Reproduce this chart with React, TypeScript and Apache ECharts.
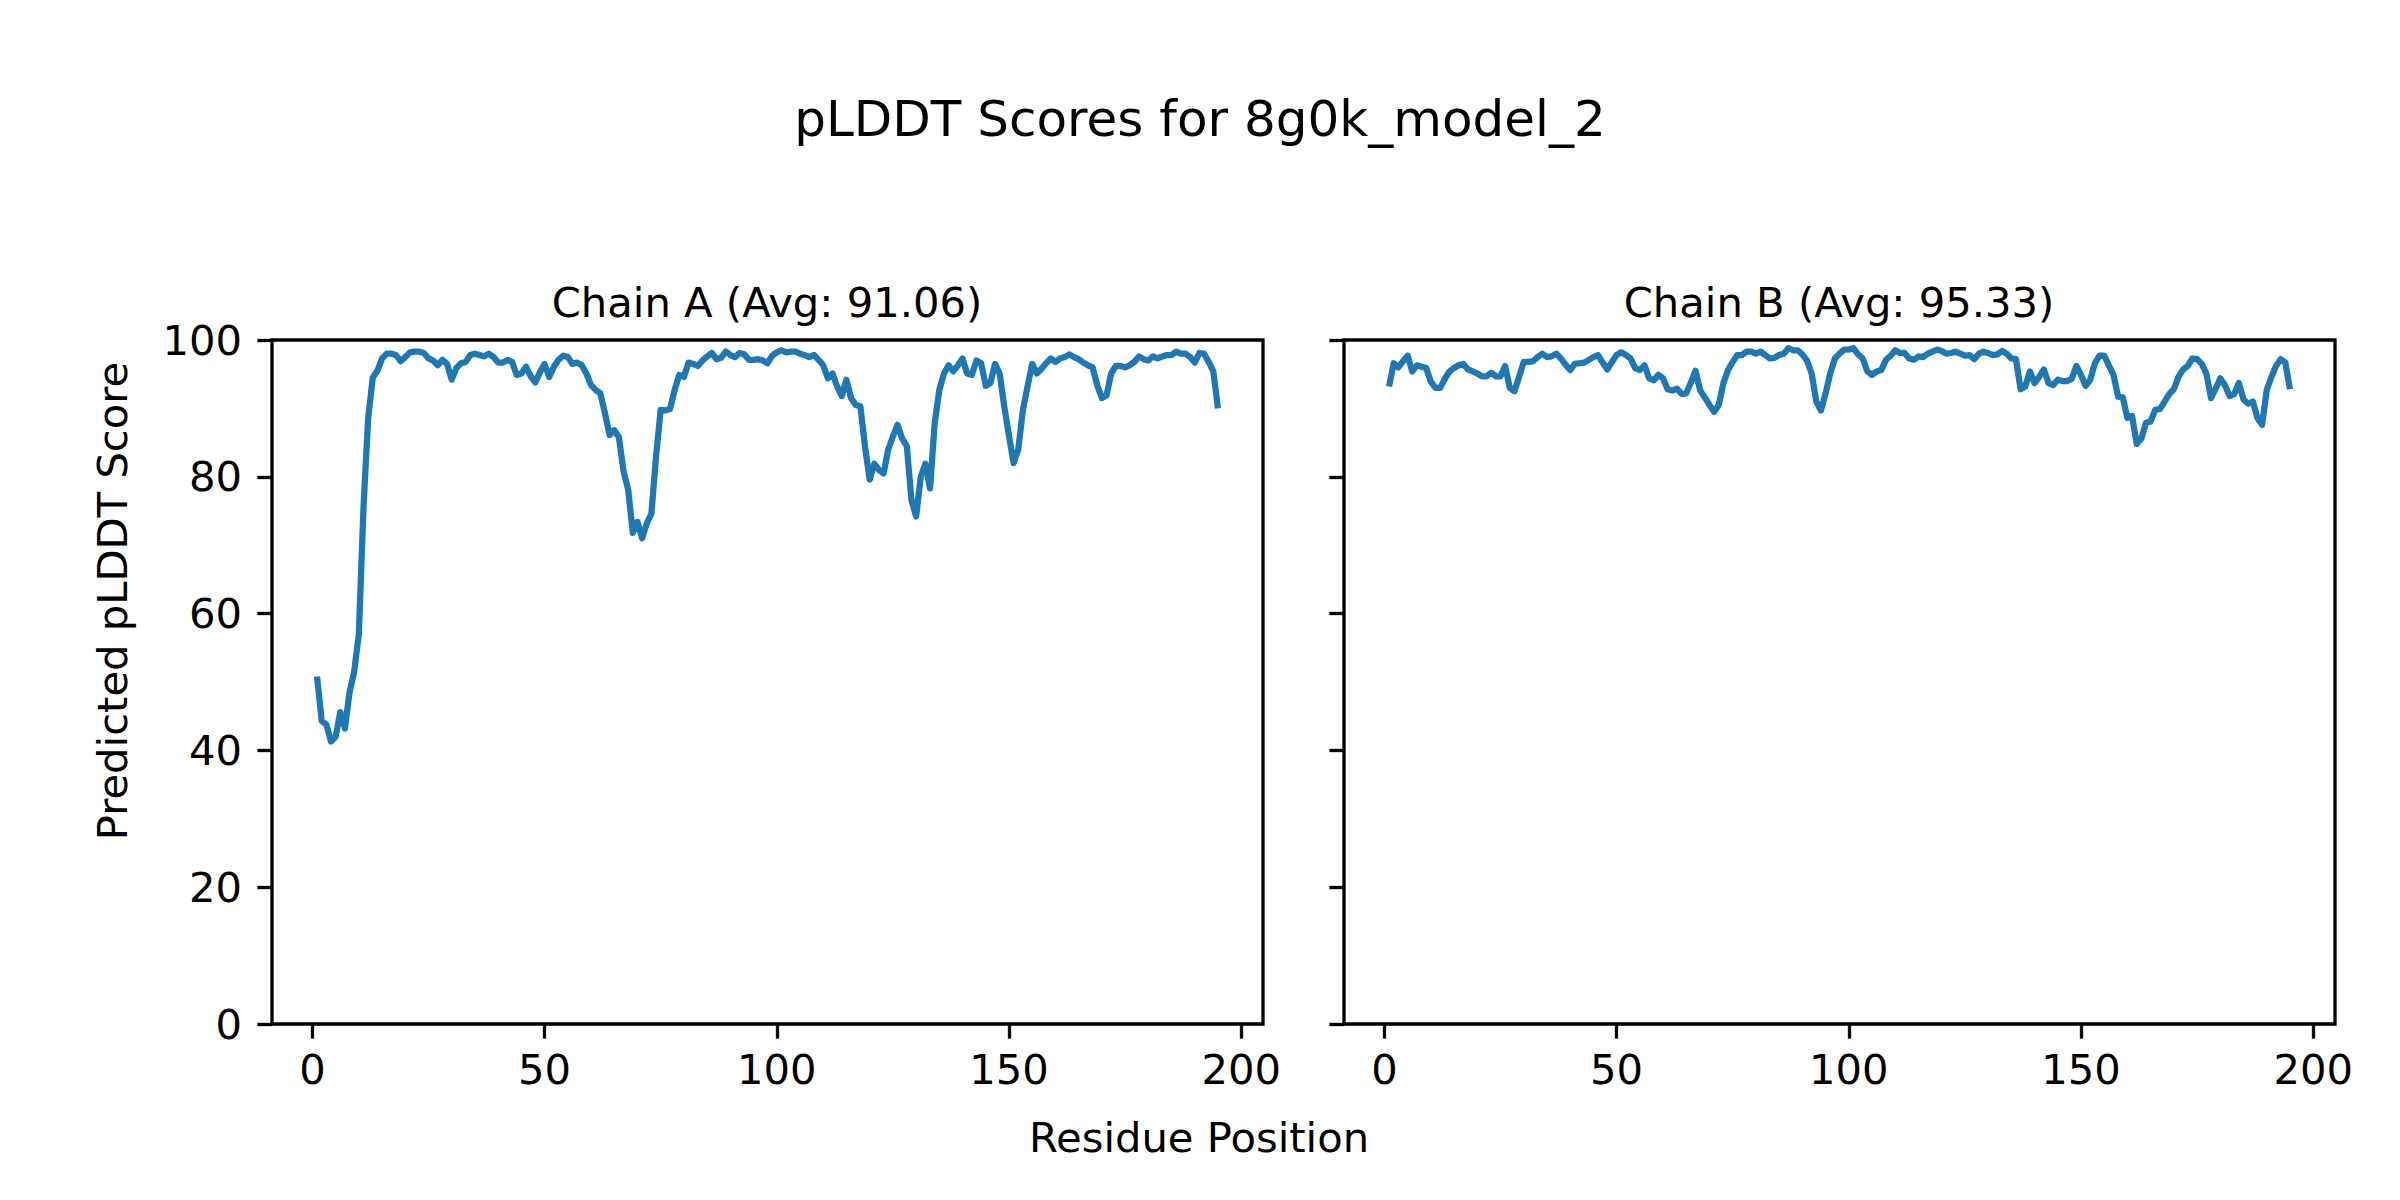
import React, { useEffect, useRef } from "react";
import * as echarts from "echarts";

const mainTitle = "pLDDT Scores for 8g0k_model_2";
const chainTitles = ["Chain A (Avg: 91.06)", "Chain B (Avg: 95.33)"];
const xLabel = "Residue Position";
const yLabel = "Predicted pLDDT Score";
const xTicks = [0, 50, 100, 150, 200];

const chainA = [
  50.8, 44.3, 43.8, 41.3, 42.0, 45.6, 43.2, 48.5, 51.5, 57.0,
  75.5, 88.5, 94.5, 95.5, 97.3, 98.0, 98.0, 97.8, 96.9, 97.5,
  98.2, 98.3, 98.3, 98.1, 97.3, 97.0, 96.3, 97.1, 96.5, 94.2,
  95.9, 96.6, 96.8, 97.8, 98.0, 97.8, 97.6, 98.0, 97.5, 96.7,
  96.7, 97.1, 96.8, 94.9, 95.1, 96.1, 94.7, 93.8, 95.3, 96.5,
  94.6, 96.1, 97.1, 97.7, 97.5, 96.5, 96.7, 96.3, 95.1, 93.4,
  92.7, 92.2, 89.3, 86.1, 86.8, 85.8, 80.8, 78.1, 71.8, 73.4,
  71.0, 73.2, 74.6, 83.0, 89.8, 89.7, 89.9, 92.7, 94.9, 94.6,
  96.7, 96.5, 96.2, 97.0, 97.6, 98.1, 97.2, 97.4, 98.3, 97.8,
  97.5, 98.1, 97.9, 97.1, 97.1, 97.2, 97.0, 96.6, 97.7, 98.2,
  98.5, 98.2, 98.3, 98.3, 98.0, 97.8, 97.5, 97.8, 97.1, 96.3,
  94.4, 95.1, 93.2, 91.8, 94.2, 91.5, 90.5, 90.3, 84.4, 79.6,
  81.9, 81.0, 80.5, 84.0, 85.9, 87.6, 85.6, 84.5, 76.6, 74.2,
  80.0, 81.9, 78.3, 87.8, 92.7, 95.1, 96.3, 95.4, 96.3, 97.3,
  95.1, 94.9, 97.0, 96.6, 93.3, 93.7, 96.5, 95.1, 90.2, 86.0,
  82.0, 84.0, 89.8, 93.2, 96.5, 95.1, 95.8, 96.6, 97.3, 96.8,
  97.3, 97.5, 97.9, 97.5, 97.2, 96.7, 96.3, 96.0, 93.4, 91.5,
  91.9, 95.1, 96.2, 96.2, 96.0, 96.3, 96.8, 97.6, 97.2, 97.0,
  97.6, 97.3, 97.6, 97.8, 97.8, 98.3, 98.0, 98.0, 97.5, 96.7,
  98.1, 98.0, 96.8, 95.4, 90.0,
];

const chainB = [
  93.2, 96.6, 96.0, 96.9, 97.7, 95.4, 96.3, 96.1, 95.9, 93.9,
  93.0, 93.0, 94.3, 95.4, 95.9, 96.3, 96.5, 95.7, 95.4, 95.1,
  94.7, 94.7, 95.2, 94.7, 94.7, 96.2, 93.0, 92.5, 94.6, 96.8,
  96.8, 96.9, 97.5, 98.0, 97.5, 97.6, 98.0, 97.3, 96.4, 95.6,
  96.5, 96.6, 96.7, 97.1, 97.5, 97.8, 96.7, 95.7, 96.8, 97.8,
  98.2, 97.8, 97.3, 95.9, 95.6, 96.3, 94.4, 94.1, 94.9, 94.4,
  92.8, 92.6, 92.9, 92.1, 92.2, 93.8, 95.5, 92.6, 91.6, 90.5,
  89.5, 90.5, 93.7, 95.6, 96.8, 97.8, 97.8, 98.3, 98.3, 98.0,
  98.3, 97.8, 97.3, 97.4, 97.8, 98.0, 98.8, 98.5, 98.5, 97.9,
  97.0, 95.1, 91.0, 89.7, 92.2, 95.1, 97.3, 98.0, 98.6, 98.6,
  98.8, 97.9, 97.3, 95.4, 94.9, 95.4, 95.6, 97.1, 97.7, 98.5,
  98.1, 98.1, 97.3, 97.1, 97.6, 97.5, 98.0, 98.3, 98.6, 98.4,
  98.0, 98.1, 98.3, 98.0, 97.7, 97.8, 97.2, 98.0, 98.3, 98.1,
  97.8, 97.9, 98.4, 98.0, 97.3, 97.2, 92.8, 93.2, 95.4, 93.7,
  94.6, 95.7, 93.7, 93.4, 94.2, 94.0, 94.0, 94.3, 96.2, 94.9,
  93.3, 94.2, 96.6, 97.7, 97.7, 96.3, 94.9, 91.7, 91.6, 88.6,
  88.9, 84.8, 85.6, 87.9, 88.1, 89.8, 89.9, 91.0, 92.1, 92.8,
  94.6, 95.7, 96.2, 97.3, 97.2, 96.5, 95.1, 91.5, 92.9, 94.4,
  93.4, 91.8, 92.1, 93.7, 91.3, 90.7, 91.0, 88.6, 87.6, 92.7,
  94.6, 96.2, 97.2, 96.7, 92.8,
];

const FONT = "DejaVu Sans";

export default function App() {
  const ref = useRef<HTMLDivElement>(null);
  useEffect(() => {
    document.body.style.margin = "0";
    const chart = echarts.init(ref.current!, null, { renderer: "svg" });
    const toPts = (arr: number[]) => arr.map((v, i) => [i + 1, v]);
    const n = chainA.length;
    const pad = (n - 1) * 0.05;
    const xmin = 1 - pad;
    const xmax = n + pad;
    const grids = [
      { left: 272, top: 340, width: 991, height: 684 },
      { left: 1344, top: 340, width: 991, height: 684 },
    ].map((g) => ({
      ...g,
      show: true,
      borderColor: "#000",
      borderWidth: 3.3,
      backgroundColor: "transparent",
    }));
    const xAxes = [0, 1].map((i) => ({
      type: "value",
      gridIndex: i,
      min: xmin,
      max: xmax,
      position: "bottom",
      splitLine: { show: false },
      axisLine: { show: false, onZero: false },
      axisTick: {
        show: true,
        inside: false,
        length: 14.6,
        lineStyle: { color: "#000", width: 3.3 },
        customValues: xTicks,
      },
      axisLabel: {
        show: true,
        fontSize: 41.7,
        fontFamily: FONT,
        color: "#000",
        margin: 24,
        customValues: xTicks,
        formatter: (v: number) => String(v),
      },
    }));
    const yAxes = [0, 1].map((i) => ({
      type: "value",
      gridIndex: i,
      min: 0,
      max: 100,
      interval: 20,
      position: "left",
      splitLine: { show: false },
      axisLine: { show: false, onZero: false },
      axisTick: {
        show: true,
        inside: false,
        length: 14.6,
        lineStyle: { color: "#000", width: 3.3 },
      },
      axisLabel: {
        show: i === 0,
        fontSize: 41.7,
        fontFamily: FONT,
        color: "#000",
        margin: 30,
      },
    }));
    const series = [chainA, chainB].map((arr, i) => ({
      type: "line",
      xAxisIndex: i,
      yAxisIndex: i,
      data: toPts(arr),
      showSymbol: false,
      symbol: "none",
      lineStyle: { color: "#1f77b4", width: 6.25, cap: "butt", join: "round" },
      clip: false,
    }));
    const txt = (text: string, x: number, y: number, size: number, rot = 0) => ({
      type: "text",
      x,
      y,
      rotation: rot,
      style: {
        text,
        fontSize: size,
        fontFamily: FONT,
        fill: "#000",
        textAlign: "center",
        textVerticalAlign: "middle",
      },
    });
    chart.setOption({
      animation: false,
      backgroundColor: "#fff",
      grid: grids,
      xAxis: xAxes,
      yAxis: yAxes,
      series,
      graphic: [
        txt(mainTitle, 1200, 119, 50),
        txt(chainTitles[0], 767, 302, 41.7),
        txt(chainTitles[1], 1839, 302, 41.7),
        txt(xLabel, 1199, 1137, 41.7),
        txt(yLabel, 112, 601, 41.7, Math.PI / 2),
      ],
    });
    return () => chart.dispose();
  }, []);
  return <div ref={ref} style={{ width: 2400, height: 1200 }} />;
}
